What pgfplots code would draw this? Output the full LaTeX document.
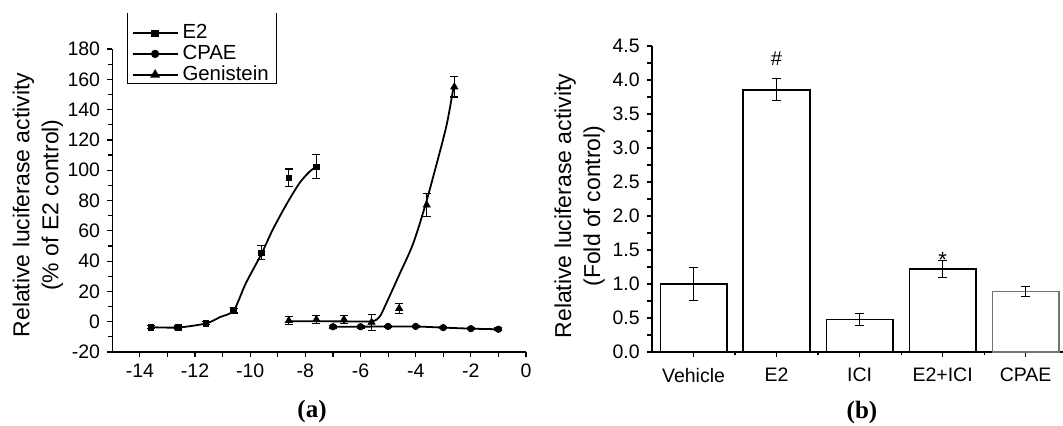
\documentclass[border=0pt]{standalone}
\usepackage{fontspec}
\setmainfont{Liberation Sans}
\newfontfamily\serifb{Liberation Serif}
\usepackage{pgfplots}
\pgfplotsset{compat=1.18}

\begin{document}
\begin{tikzpicture}
\useasboundingbox (0,0) rectangle (531.5pt,212.5pt);
\pgfplotsset{
  common/.style={
    scale only axis,
    axis x line*=bottom, axis y line*=left,
    tick align=outside,
    axis line style={line width=0.75pt},
    every tick/.style={black, line width=0.6pt},
    major tick length=2.6pt, minor tick length=2.3pt,
    tick label style={font=\fontsize{9.75}{11}\selectfont},
    /pgf/number format/assume math mode=true,
    label style={font=\fontsize{11.5}{14.5}\selectfont, align=center},
    clip=false,
  },
  ebar/.style={error bars/.cd, y dir=both, y explicit,
    error bar style={line width=0.6pt, black},
    error mark options={rotate=90, mark size=2pt, line width=0.6pt, black}},
  ebarB/.style={error bars/.cd, y dir=both, y explicit,
    error bar style={line width=0.6pt, black},
    error mark options={rotate=90, mark size=2.25pt, line width=0.6pt, black}},
}

% ---------------- (a) ----------------
\begin{axis}[common,
  at={(56.15pt,36.5pt)}, anchor=south west,
  width=206.85pt, height=151.5pt,
  xmin=-15, xmax=0, ymin=-20, ymax=180,
  xtick={-14,-12,...,0}, minor xtick={-13,-11,...,-1},
  ytick={-20,0,...,180}, minor ytick={-10,10,...,170},
  ylabel={Relative luciferase activity\\(\% of E2 control)},
  ylabel style={at={(axis description cs:-0.180,0.485)}, anchor=center},
  legend style={at={(axis cs:-14.455,154.2)}, anchor=south west,
    draw=none, fill=none, font=\fontsize{10.2}{12}\selectfont,
    inner xsep=2pt, inner ysep=0pt, row sep=-2.3pt},
  legend cell align=left,
  legend image code/.code={\draw[mark repeat=2,mark phase=2] plot coordinates {(0pt,0pt) (11.25pt,0pt) (22.5pt,0pt)};},
]
\addlegendimage{black, line width=0.9pt, mark=square*, mark size=1.4pt}
\addlegendentry{E2}
\addlegendimage{black, line width=0.9pt, mark=*, mark size=1.6pt}
\addlegendentry{CPAE}
\addlegendimage{black, line width=0.9pt, mark=triangle*, mark size=2pt}
\addlegendentry{Genistein}

% open-topped legend frame
\draw[line width=0.6pt] (axis cs:-14.455,204) -- (axis cs:-14.455,157.4)
  -- (axis cs:-9.04,157.4) -- (axis cs:-9.04,204);

% fitted curves
\addplot[black, line width=0.9pt, smooth, forget plot] coordinates {
(-13.6,-3.6) (-12.6,-3.8) (-11.6,-1.1) (-11.1,3.0) (-10.6,7.5) (-10.16,25.3)
(-9.6,44.5) (-9.19,60.5) (-8.7,77) (-8.22,91.3) (-7.85,99) (-7.6,102.3)};
\addplot[black, line width=0.9pt, forget plot] coordinates {
(-7,-3.3) (-6,-3.3) (-5,-3.1) (-4,-3.1) (-3,-3.9) (-2,-4.6) (-1,-5.0)};
\addplot[black, line width=0.9pt, smooth, forget plot] coordinates {
(-8.6,0.3) (-7.6,0.3) (-6.6,0.2) (-5.6,0.3) (-5.31,3.3) (-5.07,12) (-4.58,31.6)
(-4.10,51.2) (-3.66,76.3) (-3.25,103.5) (-2.88,129.7) (-2.64,153.6)};

% data points
\addplot[black, only marks, mark=square*, mark size=1.4pt, forget plot, ebar] coordinates {
(-13.6,-3.6) +- (0,1) (-12.6,-3.8) +- (0,1) (-11.6,-1.1) +- (0,1) (-10.6,7.3) +- (0,1.5)
(-9.6,45.5) +- (0,4.6) (-8.6,95) +- (0,5.8) (-7.6,102.3) +- (0,7.9)};
\addplot[black, only marks, mark=*, mark size=1.6pt, forget plot, ebar] coordinates {
(-7,-3.3) +- (0,0.8) (-6,-3.3) +- (0,0.8) (-5,-3.1) +- (0,0.8) (-4,-3.1) +- (0,0.8)
(-3,-3.9) +- (0,0.8) (-2,-4.6) +- (0,0.8) (-1,-5.0) +- (0,0.8)};
\addplot[black, only marks, mark=triangle*, mark size=2pt, forget plot, ebar] coordinates {
(-8.6,0.8) +- (0,2.5) (-7.6,1.5) +- (0,2.5) (-6.6,1.5) +- (0,2.5) (-5.6,-0.4) +- (0,5.4)
(-4.6,8.7) +- (0,3.3) (-3.6,77) +- (0,7.4) (-2.6,155) +- (0,6.7)};
\end{axis}

% ---------------- (b) ----------------
\begin{axis}[common,
  at={(326pt,36.5pt)}, anchor=south west,
  width=205.5pt, height=153pt,
  xmin=0.5, xmax=5.45, ymin=0, ymax=4.5,
  xtick={1,...,5}, xticklabels={Vehicle,E2,ICI,E2+ICI,CPAE},
  extra x ticks={1.5,2.5,3.5,4.5}, extra x tick labels={},
  extra x tick style={major tick length=1.3pt},
  xticklabel style={yshift=-2pt},
  ytick={0,0.5,...,4.5}, minor ytick={0.25,0.75,...,4.25},
  yticklabel style={/pgf/number format/.cd, fixed, fixed zerofill, precision=1},
  ylabel={Relative luciferase activity\\(Fold of control)},
  ylabel style={at={(axis description cs:-0.176,0.477)}, anchor=center},
]
\addplot[ybar, bar width=0.8, bar shift=0pt, fill=white, draw=black, line width=0.8pt, ebarB]
  coordinates {(1,1.0) +- (0,0.24)};
\addplot[ybar, bar width=0.8, bar shift=0pt, fill=white, draw=black, line width=1pt, ebarB]
  coordinates {(2,3.86) +- (0,0.16)};
\addplot[ybar, bar width=0.8, bar shift=0pt, fill=white, draw=black, line width=0.8pt, ebarB]
  coordinates {(3,0.48) +- (0,0.09)};
\addplot[ybar, bar width=0.8, bar shift=0pt, fill=white, draw=black, line width=0.9pt, ebarB]
  coordinates {(4,1.22) +- (0,0.13)};
\addplot[ybar, bar width=0.8, bar shift=0pt, fill=white, draw=black!55, line width=0.7pt, ebarB]
  coordinates {(5,0.89) +- (0,0.075)};
\node[font=\fontsize{10}{12}\selectfont] at (axis cs:2,4.32) {\#};
\node[font=\fontsize{11}{12}\selectfont, anchor=north] at (axis cs:4,1.57) {*};
\end{axis}

\node[font=\serifb\bfseries\fontsize{12.5}{14}\selectfont] at (156pt,7pt) {(a)};
\node[font=\serifb\bfseries\fontsize{12.5}{14}\selectfont] at (431pt,6.5pt) {(b)};
\end{tikzpicture}
\end{document}
